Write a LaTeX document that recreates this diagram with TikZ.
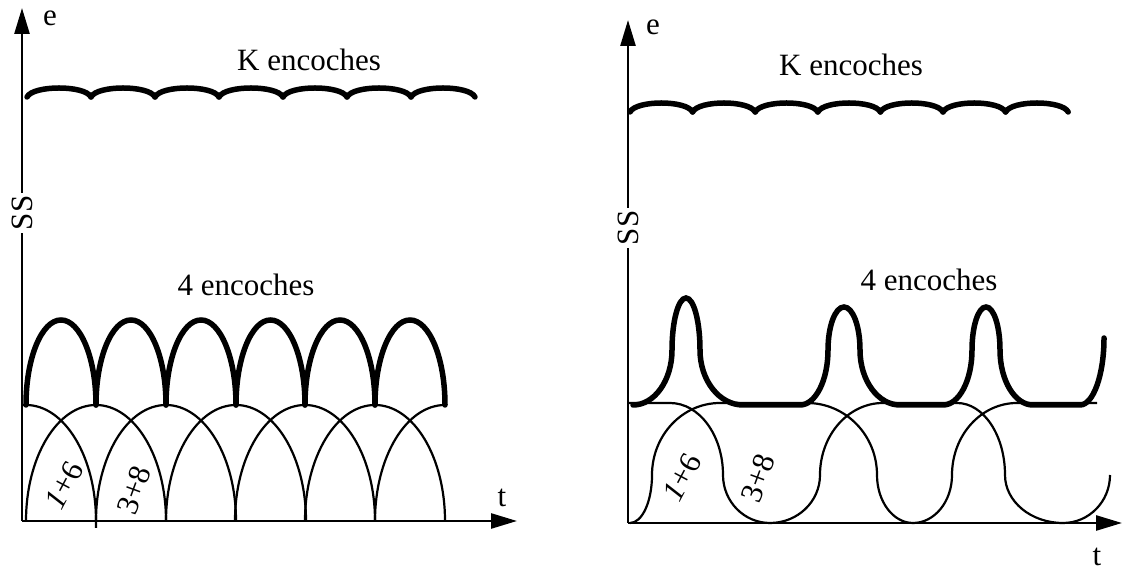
\documentclass[tikz,border=0pt]{standalone}
\usepackage{fontspec}
\setmainfont{Liberation Serif}
\usetikzlibrary{arrows.meta}

\begin{document}
\begin{tikzpicture}[x=1pt,y=1pt,
axis/.style={line width=2.6pt,-{Triangle[length=26pt,width=15pt]}},
thinline/.style={line width=2.2pt},
thickline/.style={line width=5.5pt,line cap=round},
lbl/.style={font=\fontsize{31}{36}\selectfont,inner sep=0pt},
axlbl/.style={lbl,fill=white,rotate=90,inner sep=3pt}
]
\useasboundingbox (0,0) rectangle (1145,572);

% left plot: axes
\draw[axis] (22,51) -- (22,564);
\draw[axis] (22,51) -- (517,51);
\node[axlbl] (ssL) at (22,359) {SS};
\node[lbl] (eL) at (50,554) {e};
\node[lbl] (tL) at (502,74) {t};
\node[lbl] (kL) at (309,512) {K encoches};
\node[lbl] (fourL) at (246,287) {4 encoches};

% K encoches ripple
\foreach \i in {0,...,6}
  \draw[thickline] ({27+64*\i},475) .. controls ({33+64*\i},487) and ({85+64*\i},487) .. ({91+64*\i},475);

% single slot waves
\draw[thinline] (22,167) -- (26,167) arc[start angle=90,end angle=0,x radius=70,y radius=116] -- (96,44);
\foreach \c in {96,166,236,305,375}
  \draw[thinline] ({\c-70},51) arc[start angle=180,end angle=0,x radius=70,y radius=116];
\draw[thinline] (375,51) arc[start angle=180,end angle=90,x radius=70,y radius=116];

% sum
\foreach \a/\b in {26/96,96/166,166/236,236/305,305/375,375/445}
  \draw[thickline] (\a,167) arc[start angle=180,end angle=0,x radius={(\b-\a)/2},y radius=85];

\node[lbl,rotate=62] (aL) at (64,87) {\textit{1}+6};
\node[lbl,rotate=70] (bL) at (134,82) {3+8};

% right plot: axes
\draw[axis] (628,49) -- (628,552);
\draw[axis] (628,49) -- (1122,49);
\node[axlbl] (ssR) at (628,344) {SS};
\node[lbl] (eR) at (653,545) {e};
\node[lbl] (tR) at (1097,15) {t};
\node[lbl] (kR) at (851,507) {K encoches};
\node[lbl] (fourR) at (929,292) {4 encoches};

% K encoches ripple
\foreach \i in {0,...,6}
  \draw[thickline] ({630+62.6*\i},460) .. controls ({636+62.6*\i},472) and ({686.6+62.6*\i},472) .. ({692.6+62.6*\i},460);

% single slot waves
\draw[thinline] (628,169) -- (670,169)
  arc[start angle=90,end angle=0,x radius=53,y radius=72]
  arc[start angle=180,end angle=270,x radius=47,y radius=48]
  arc[start angle=270,end angle=360,x radius=50,y radius=48]
  arc[start angle=180,end angle=90,x radius=63,y radius=72] -- (957,169)
  arc[start angle=90,end angle=0,x radius=48,y radius=72]
  arc[start angle=180,end angle=270,x radius=58,y radius=48]
  arc[start angle=270,end angle=360,x radius=47,y radius=48];
\draw[thinline] (630,49)
  arc[start angle=270,end angle=360,x radius=22,y radius=48]
  arc[start angle=180,end angle=90,x radius=68,y radius=72] -- (807,169)
  arc[start angle=90,end angle=0,x radius=70,y radius=72]
  arc[start angle=180,end angle=270,x radius=36,y radius=48]
  arc[start angle=270,end angle=360,x radius=39,y radius=48]
  arc[start angle=180,end angle=90,x radius=65,y radius=72] -- (1097,169);

% sum
\draw[thickline] (633,167)
  arc[start angle=270,end angle=360,x radius=39,y radius=55]
  arc[start angle=180,end angle=0,x radius=14,y radius=52]
  arc[start angle=180,end angle=270,x radius=43,y radius=55] -- (800,167)
  arc[start angle=270,end angle=360,x radius=28,y radius=55]
  arc[start angle=180,end angle=0,x radius=16,y radius=43]
  arc[start angle=180,end angle=270,x radius=40,y radius=55] -- (943,167)
  arc[start angle=270,end angle=360,x radius=29,y radius=55]
  arc[start angle=180,end angle=0,x radius=14,y radius=43]
  arc[start angle=180,end angle=270,x radius=33,y radius=55] -- (1080,167)
  arc[start angle=270,end angle=360,x radius=24,y radius=67];

\node[lbl,rotate=62] (aR) at (682,95) {\textit{1}+6};
\node[lbl,rotate=70] (bR) at (758,94) {3+8};
\end{tikzpicture}
\end{document}
